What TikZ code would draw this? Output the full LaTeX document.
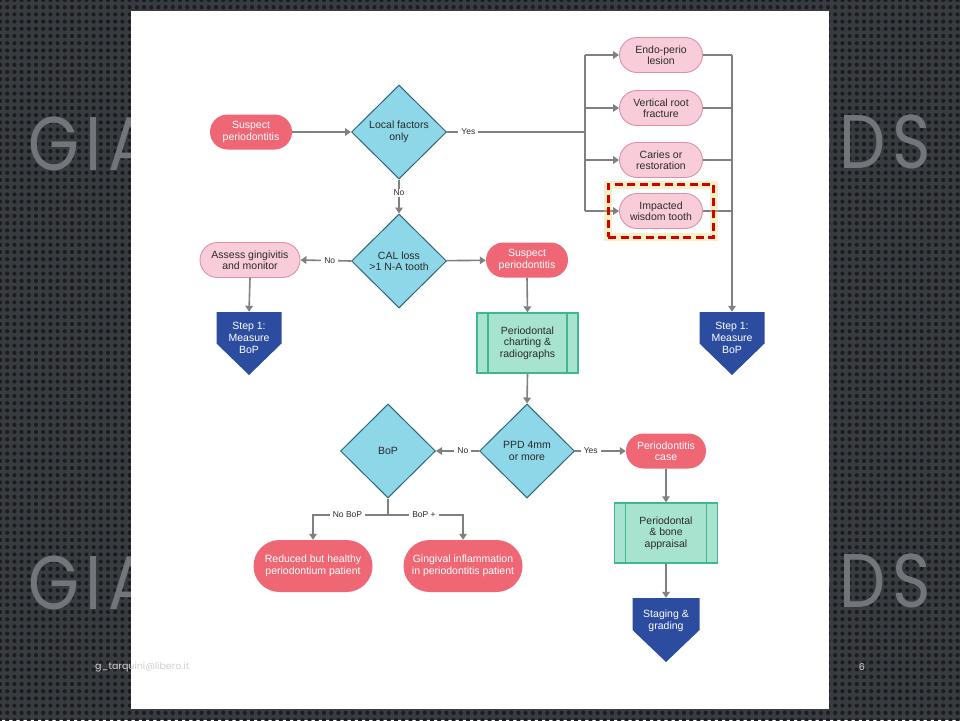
\documentclass[tikz,border=0pt]{standalone}
\usepackage{fontspec}
\setmainfont{Liberation Sans}
\newfontfamily\wmfont[LetterSpace=10]{Poppins}
\newfontfamily\ftfont{Poppins}
\usetikzlibrary{shapes.geometric,shapes.misc,arrows.meta,patterns.meta,calc,fit}
\definecolor{bgc}{HTML}{383B40}
\definecolor{dotc}{HTML}{1B1C1F}
\definecolor{wmc}{HTML}{72757A}
\definecolor{footc}{HTML}{D0D0D0}
\definecolor{redpillc}{HTML}{EF6774}
\definecolor{pinkf}{HTML}{F9CCDA}
\definecolor{pinkd}{HTML}{DE8FA9}
\definecolor{cyanf}{HTML}{8DD7E8}
\definecolor{cyand}{HTML}{2E6676}
\definecolor{greenf}{HTML}{A7E3CF}
\definecolor{greend}{HTML}{3DB893}
\definecolor{stepb}{HTML}{2C4CA0}
\definecolor{linec}{HTML}{808080}
\definecolor{txt}{HTML}{2B2B2B}
\definecolor{hlred}{HTML}{D40000}
\definecolor{glowc}{HTML}{E3D46A}
\tikzdeclarepattern{name=bgdots,type=uncolored,
  bottom left={(-3.6pt,-3.6pt)},top right={(3.6pt,3.6pt)},
  tile size={(7.2pt,7.2pt)},
  code={\fill (0pt,0pt) circle (2.1pt);}}
\begin{document}
\begin{tikzpicture}[x=1pt,y=-1pt,
  font=\fontsize{10.5}{11.5}\selectfont,
  redpill/.style={rounded rectangle, fill=redpillc, text=white, minimum width=86pt,
    minimum height=35pt, inner sep=2pt, align=center},
  pinkbox/.style={rounded rectangle, fill=pinkf, draw=pinkd, line width=0.9pt, text=txt,
    minimum width=87pt, minimum height=35pt, inner sep=2pt, align=center},
  dia/.style={diamond, fill=cyanf, draw=cyand, line width=1pt, minimum width=95pt,
    minimum height=94pt, inner sep=0pt, align=center, text=txt},
  greenbox/.style={rectangle, fill=greenf, draw=greend, line width=1.3pt, text=txt,
    align=center, minimum width=101pt, minimum height=60pt, inner sep=2pt,
    path picture={\draw[greend, line width=1.1pt]
      ([xshift=11pt]path picture bounding box.north west) -- ([xshift=11pt]path picture bounding box.south west)
      ([xshift=-11pt]path picture bounding box.north east) -- ([xshift=-11pt]path picture bounding box.south east);}},
  stepshape/.style={rectangle, fill=white, minimum width=65pt, minimum height=63pt, inner sep=0pt,
    path picture={\fill[stepb] (path picture bounding box.north west) -- (path picture bounding box.north east)
      -- (path picture bounding box.east) -- (path picture bounding box.south)
      -- (path picture bounding box.west) -- cycle;}},
  steptext/.style={text=white, align=center, inner sep=0pt, font=\fontsize{10.5}{12}\selectfont},
  ar/.style={draw=linec, line width=1.6pt, -{Triangle[length=6pt,width=7.5pt]}},
  ln/.style={draw=linec, line width=1.6pt},
  lbl/.style={font=\fontsize{8.5}{9}\selectfont, text=txt, fill=white, inner xsep=3pt, inner ysep=1pt},
  hilite/.style={draw=hlred, line width=3pt, dash pattern=on 8pt off 4.5pt, inner xsep=11pt, inner ysep=8.5pt,
    preaction={draw=glowc, draw opacity=0.35, line width=8pt, solid}},
  wm/.style={font=\wmfont\fontsize{76}{76}\selectfont, text=wmc, inner sep=0pt, xscale=0.86, transform shape},
  foot/.style={font=\ftfont\fontsize{9.5}{10}\selectfont, text=footc, inner sep=0pt}
]
\useasboundingbox (0,0) rectangle (960,720);
\fill[bgc] (0,0) rectangle (960,720);
\fill[pattern=bgdots, pattern color=dotc] (0,0) rectangle (960,720);
\node[wm, anchor=base west] (wm1) at (28,170) {GIA};
\node[wm, anchor=base east] (wm2) at (931,168) {ODS};
\node[wm, anchor=base west] (wm3) at (28,609) {GIA};
\node[wm, anchor=base east] (wm4) at (931,607) {ODS};
\fill[white] (131,11) rectangle (829,709);
\node[foot, anchor=west] (ft1) at (95,667) {g\_tarquini@libero.it};
\node[foot] (ft2) at (862,667) {6};

% nodes
\node[redpill] (sp1) at (251,132) {Suspect\\periodontitis};
\node[dia] (d1) at (399,132) {Local factors\\only};
\node[pinkbox] (b1) at (661,55) {Endo-perio\\lesion};
\node[pinkbox] (b2) at (661,108) {Vertical root\\fracture};
\node[pinkbox] (b3) at (661,160) {Caries or\\restoration};
\node[pinkbox] (b4) at (661,211) {Impacted\\wisdom tooth};
\node[dia] (d2) at (399,261) {CAL loss\\>1 N-A tooth};
\node[pinkbox, minimum width=104pt] (as) at (250,260) {Assess gingivitis\\and monitor};
\node[redpill] (sp2) at (527,260) {Suspect\\periodontitis};
\node[stepshape] (st1) at (249,343.5) {};
\node[steptext] (st1t) at ([yshift=5.5pt]st1.center) {Step 1:\\Measure\\BoP};
\node[stepshape] (st2) at (732,343.5) {};
\node[steptext] (st2t) at ([yshift=5.5pt]st2.center) {Step 1:\\Measure\\BoP};
\node[greenbox] (ch) at (527.5,343) {Periodontal\\charting \&\\radiographs};
\node[dia] (d3) at (527,451) {PPD 4mm\\or more};
\node[dia] (d4) at (388,451) {BoP};
\node[redpill, minimum width=84pt] (pc) at (666,451) {Periodontitis\\case};
\node[greenbox, minimum width=103pt] (ap) at (666,533) {Periodontal\\\& bone\\appraisal};
\node[stepshape, minimum width=67pt, minimum height=64pt] (sg) at (666,630) {};
\node[steptext] (sgt) at ([yshift=9pt]sg.center) {Staging \&\\grading};
\node[redpill, minimum width=123pt, minimum height=52pt] (r1) at (313,566) {Reduced but healthy\\periodontium patient};
\node[redpill, minimum width=123pt, minimum height=52pt] (r2) at (463,566) {Gingival inflammation\\in periodontitis patient};

% connectors
\draw[ar] (sp1) -- (d1);
\coordinate (bt) at (585,55);
\coordinate (bb) at (585,211);
\coordinate (bm) at (585,132);
\draw[ln] (d1.east) -- (bm) node[lbl, pos=0.155] {Yes};
\draw[ln] (bt) -- (bb);
\draw[ar] (bt) -- (b1.west);
\draw[ar] (585,108) -- (b2.west);
\draw[ar] (585,160) -- (b3.west);
\draw[ar] (bb) -- (b4.west);
\draw[ln] (b1.east) -- (b1.east -| st2.north);
\draw[ln] (b2.east) -- (b2.east -| st2.north);
\draw[ln] (b3.east) -- (b3.east -| st2.north);
\draw[ln] (b4.east) -- (b4.east -| st2.north);
\draw[ar] (b1.east -| st2.north) -- (st2.north);
\node[hilite, fit=(b4)] (hl) {};

\draw[ar] (d1.south) -- (d2.north) node[lbl, pos=0.4] {No};
\draw[ar] (d2.west) -- (as.east) node[lbl, pos=0.42] {No};
\draw[ar] (d2) -- (sp2);
\draw[ar] (as.south) -- (st1.north);
\draw[ar] (sp2.south) -- (ch.north);
\draw[ar] (ch.south) -- (d3.north);
\draw[ar] (d3.west) -- (d4.east) node[lbl, pos=0.375] {No};
\draw[ar] (d3.east) -- (pc.west) node[lbl, pos=0.31] {Yes};
\draw[ar] (pc.south) -- (ap.north);
\draw[ar] (ap.south) -- (sg.north);
\coordinate (bj) at (388,515);
\draw[ln] (d4.south) -- (bj);
\draw[ar] (bj) -| (r1.north) node[lbl, pos=0.27] {No BoP};
\draw[ar] (bj) -| (r2.north) node[lbl, pos=0.24] {BoP +};
\end{tikzpicture}
\end{document}
